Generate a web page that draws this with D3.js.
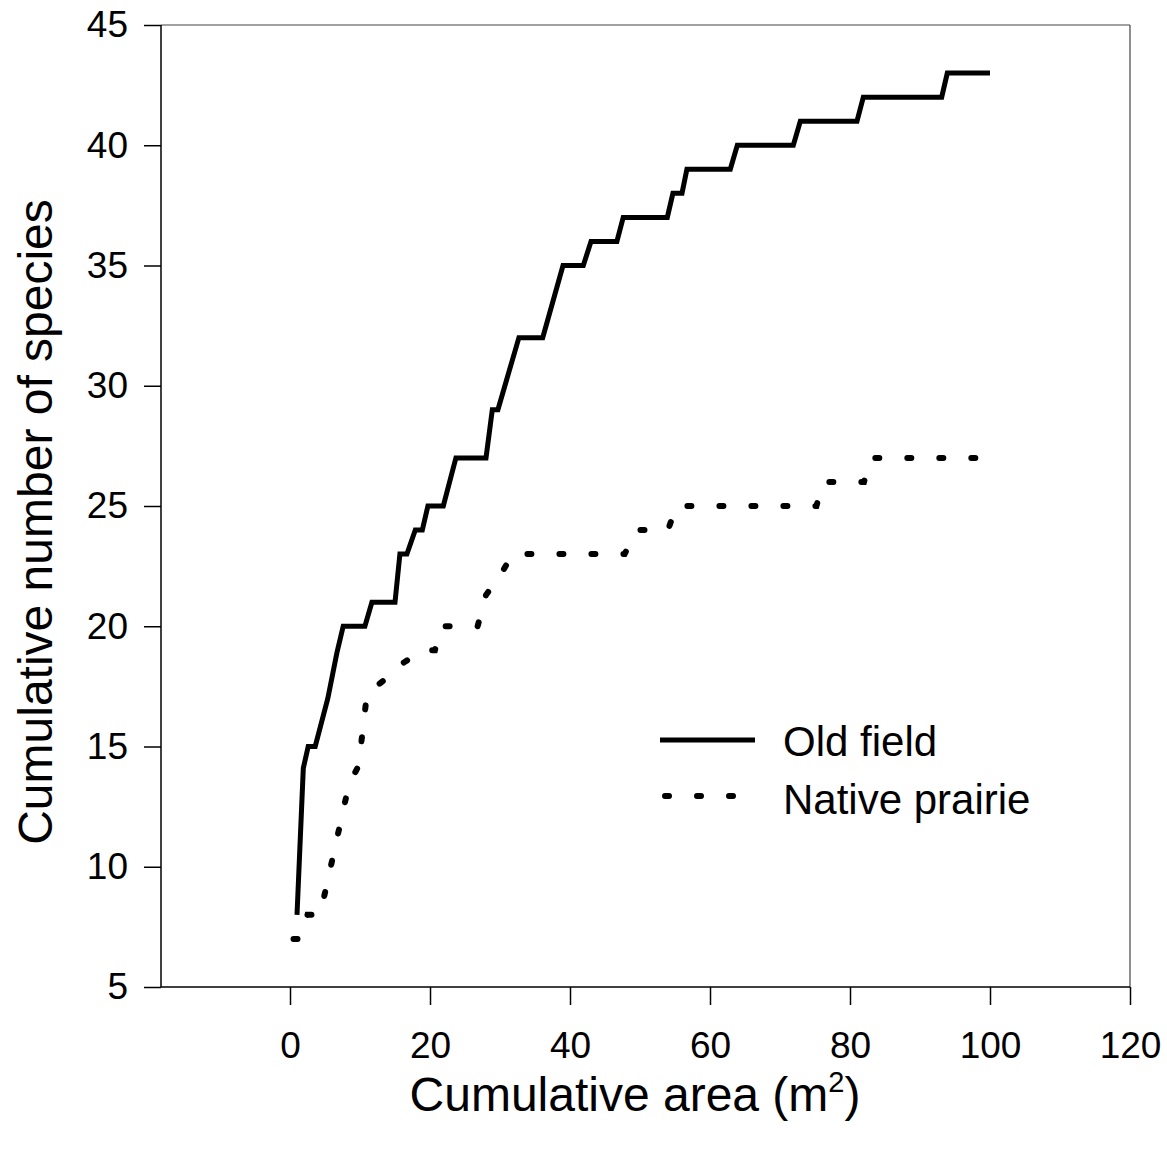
<!DOCTYPE html>
<html>
<head>
<meta charset="utf-8">
<script src="https://cdnjs.cloudflare.com/ajax/libs/d3/7.8.5/d3.min.js"></script>
<style>
  body { margin: 0; background: #fff; }
  text { font-family: "Liberation Sans", Arial, sans-serif; fill: #000; }
</style>
</head>
<body>
<svg></svg>
<script>
var margin = {top: 25, right: 37, bottom: 170, left: 161};
var width = 1167 - margin.left - margin.right,
    height = 1157 - margin.top - margin.bottom;

// cumulative area (m2) vs cumulative species
var oldFieldX = [1, 1.9, 2.6, 3.6, 5.4, 6.7, 7.6, 10.7, 11.7, 15, 15.7, 16.7, 17.9, 18.9, 19.7, 21.9,
                 23.7, 28, 28.9, 29.7, 32.7, 36.1, 39, 41.9, 43, 46.7, 47.6, 53.9, 54.7, 56, 56.7,
                 62.9, 63.9, 71.9, 72.9, 81, 81.9, 93.1, 93.9, 100];
var oldFieldY = [8, 14.1, 15, 15, 17, 18.9, 20, 20, 21, 21, 23, 23, 24, 24, 25, 25,
                 27, 27, 29, 29, 32, 32, 35, 35, 36, 36, 37, 37, 38, 38, 39,
                 39, 40, 40, 41, 41, 42, 42, 43, 43];

var prairieX = [0.5, 1.5, 2.5, 4.3, 8.4, 9.8, 11, 13.6, 16.3, 19, 20.7, 21.6, 26.8, 28, 30, 31.8,
                47.8, 49.5, 54, 55.2, 75.2, 76.2, 82, 83, 98];
var prairieY = [7, 7, 8, 8, 13.4, 14.2, 17.2, 17.8, 18.5, 19, 19, 20, 20, 21.3, 22.1, 23,
                23, 24, 24, 25, 25, 26, 26, 27, 27];

var xTicks = [0, 20, 40, 60, 80, 100, 120];
var yTicks = [5, 10, 15, 20, 25, 30, 35, 40, 45];
var seriesNames = ["Old field", "Native prairie"];

var svg = d3.select("svg")
    .attr("width", 1167)
    .attr("height", 1157);

var g = svg.append("g")
    .attr("transform", "translate(" + margin.left + "," + margin.top + ")");

var x = d3.scaleLinear().domain([-18.43, 120]).range([0, width]);
var y = d3.scaleLinear().domain([5, 45]).range([height, 0]);

// frame
g.append("line").attr("x1", 0).attr("x2", width).attr("y1", 0).attr("y2", 0)
    .attr("stroke", "#444").attr("stroke-width", 1.2);
g.append("line").attr("x1", width).attr("x2", width).attr("y1", 0).attr("y2", height)
    .attr("stroke", "#444").attr("stroke-width", 1.2);

var xAxis = g.append("g")
    .attr("transform", "translate(0," + height + ")")
    .call(d3.axisBottom(x).tickValues(xTicks).tickSize(18).tickPadding(27).tickFormat(d3.format("d")));

var yAxis = g.append("g")
    .call(d3.axisLeft(y).tickValues(yTicks).tickSize(17).tickPadding(16).tickFormat(d3.format("d")));

[xAxis, yAxis].forEach(function(a) {
  a.select(".domain").attr("stroke", "#000").attr("stroke-width", 1.5);
  a.selectAll(".tick line").attr("stroke", "#000").attr("stroke-width", 1.5);
  a.selectAll(".tick text")
    .attr("font-family", "Liberation Sans, Arial, sans-serif")
    .attr("font-size", 37)
    .attr("fill", "#000");
});
xAxis.select(".domain").attr("d", "M0,0H" + width);
yAxis.select(".domain").attr("d", "M0,0V" + height);

var line = d3.line()
    .x(function(d) { return x(d[0]); })
    .y(function(d) { return y(d[1]); });

var oldField = oldFieldX.map(function(v, i) { return [v, oldFieldY[i]]; });
var prairie = prairieX.map(function(v, i) { return [v, prairieY[i]]; });

g.append("path")
    .datum(oldField)
    .attr("d", line)
    .attr("fill", "none")
    .attr("stroke", "#000")
    .attr("stroke-width", 5);

g.append("path")
    .datum(prairie)
    .attr("d", line)
    .attr("fill", "none")
    .attr("stroke", "#000")
    .attr("stroke-width", 6)
    .attr("stroke-linecap", "round")
    .attr("stroke-dasharray", "4,28");

// legend
var legend = g.append("g").attr("transform", "translate(" + (660 - margin.left) + "," + (740 - margin.top) + ")");
legend.selectAll("line")
    .data(seriesNames)
    .enter().append("line")
    .attr("x1", 0)
    .attr("x2", 95)
    .attr("y1", function(d, i) { return i * 56; })
    .attr("y2", function(d, i) { return i * 56; })
    .attr("stroke", "#000")
    .attr("stroke-width", function(d, i) { return i ? 6 : 5; })
    .attr("stroke-linecap", function(d, i) { return i ? "round" : "butt"; })
    .attr("stroke-dasharray", function(d, i) { return i ? "4,28" : null; })
    .attr("transform", function(d, i) { return i ? "translate(5,0)" : null; });
legend.selectAll("text")
    .data(seriesNames)
    .enter().append("text")
    .attr("x", 123)
    .attr("y", function(d, i) { return i * 58 + 16; })
    .attr("font-size", 42)
    .text(function(d) { return d; });

// axis titles
svg.append("text")
    .attr("x", 635)
    .attr("y", 1111)
    .attr("text-anchor", "middle")
    .attr("font-size", 48)
    .html("Cumulative area (m<tspan dy='-19' font-size='29'>2</tspan><tspan dy='19'>)</tspan>");

svg.append("text")
    .attr("transform", "translate(52,522) rotate(-90)")
    .attr("text-anchor", "middle")
    .attr("font-size", 48)
    .text("Cumulative number of species");
</script>
</body>
</html>
